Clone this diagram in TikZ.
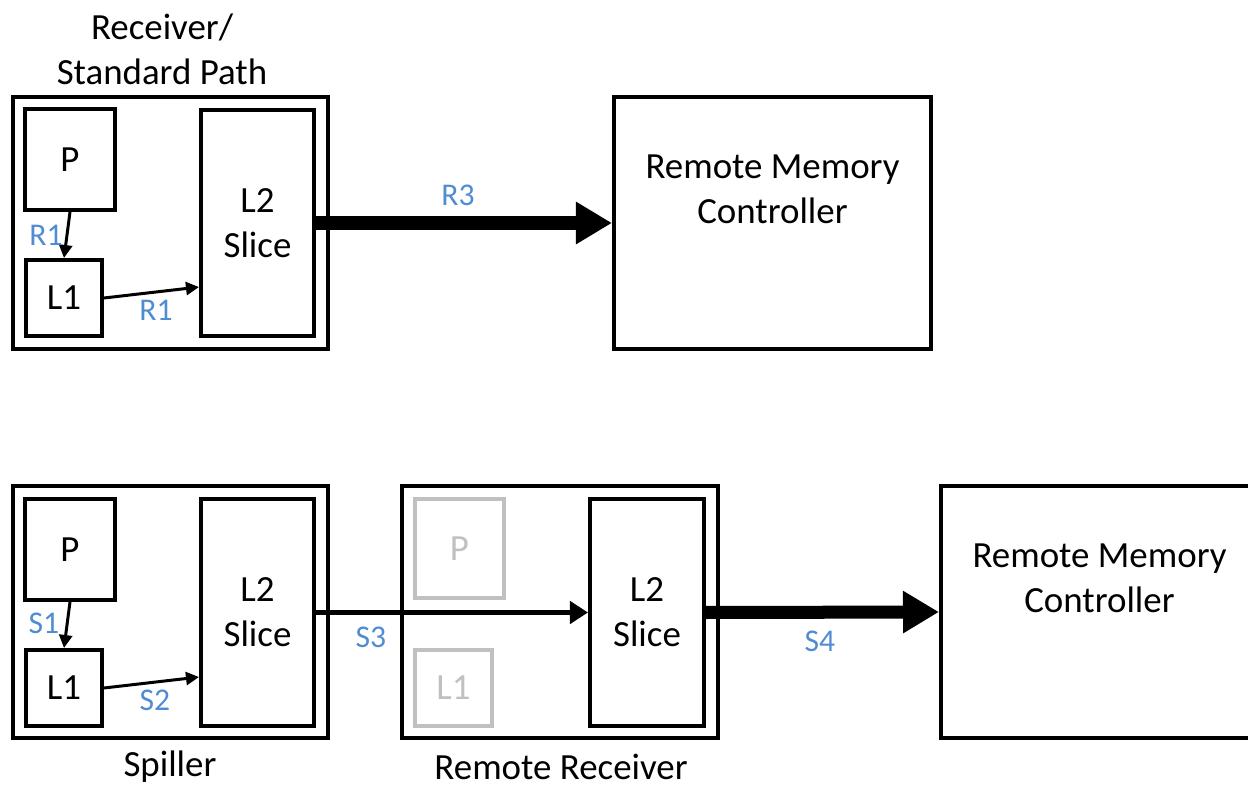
\documentclass[tikz,border=0pt]{standalone}
\usepackage{fontspec}
\setmainfont{Carlito}
\definecolor{blue1}{RGB}{80, 140, 210}
\definecolor{grey1}{RGB}{192, 192, 192}
\usepackage{tikz}
\usetikzlibrary{arrows.meta, positioning, calc}

\begin{document}
\begin{tikzpicture}[
    box/.style={draw, line width=2.3pt, minimum width=#1},
    txt/.style={font=\fontsize{21}{25.5}\selectfont, align=center},
    lbl/.style={text=blue1, font=\fontsize{18}{21}\selectfont, inner sep=0pt},
    thin/.style={line width=1.7pt, -{Triangle[length=0.26cm, width=0.26cm]}},
    mid/.style={line width=3.4pt, -{Triangle[length=0.36cm, width=0.44cm]}},
    thick/.style={line width=7.4pt, -{Triangle[length=0.72cm, width=0.8cm]}}
  ]
  \useasboundingbox (0,0) rectangle (24.96,15.72);
  \clip (0,0) rectangle (24.96,15.72);

  % receiver / standard path
  \node[box=6.3cm, minimum height=5.04cm] (rOuter) at (3.41,11.26) {};
  \node[box=1.8cm, minimum height=2.02cm, txt] (rP) at (1.4,12.53) {P};
  \node[box=1.52cm, minimum height=1.52cm, txt] (rL1) at (1.28,9.76) {L1};
  \node[box=2.26cm, minimum height=4.52cm, txt] (rL2) at (5.15,11.26) {L2\\Slice};
  \node[txt] (rTitle) at (3.24,14.74) {Receiver/\\Standard Path};
  \node[box=6.34cm, minimum height=5.04cm] (rMC) at (15.45,11.26) {};
  \node[txt] (rMCtext) at ([yshift=0.67cm]rMC.center) {Remote Memory\\Controller};

  \draw[thin] (rP.south) -- (rL1.north);
  \draw[thin] (rL1.east) -- ([yshift=1.02cm]rL2.south west);
  \draw[thick] (rL2.east) -- (rMC.west);
  \node[lbl] (rA) at (0.92,11.02) {R1};
  \node[lbl] (rB) at (3.12,9.52) {R1};
  \node[lbl] (rC) at (9.16,11.82) {R3};

  % spiller
  \node[box=6.3cm, minimum height=5.04cm] (sOuter) at (3.41,3.48) {};
  \node[box=1.8cm, minimum height=2.02cm, txt] (sP) at (1.4,4.73) {P};
  \node[box=1.52cm, minimum height=1.52cm, txt] (sL1) at (1.28,1.96) {L1};
  \node[box=2.26cm, minimum height=4.54cm, txt] (sL2) at (5.15,3.47) {L2\\Slice};
  \node[txt] (sTitle) at (3.4,0.38) {Spiller};

  % remote receiver
  \node[box=6.32cm, minimum height=5.04cm] (qOuter) at (11.2,3.48) {};
  \node[box=1.78cm, minimum height=1.98cm, draw=grey1, text=grey1, txt] (qP) at (9.19,4.75) {P};
  \node[box=1.54cm, minimum height=1.52cm, draw=grey1, text=grey1, txt] (qL1) at (9.07,1.96) {L1};
  \node[box=2.28cm, minimum height=4.54cm, txt] (qL2) at (12.94,3.47) {L2\\Slice};
  \node[txt] (qTitle) at (11.22,0.38) {Remote Receiver};

  \node[box=6.34cm, minimum height=5.04cm] (sMC) at (21.99,3.48) {};
  \node[txt] (sMCtext) at ([yshift=0.67cm]sMC.center) {Remote Memory\\Controller};

  \draw[thin] (sP.south) -- (sL1.north);
  \draw[thin] (sL1.east) -- ([yshift=1.02cm]sL2.south west);
  \draw[mid] (sL2.east) -- (qL2.west);
  \draw[thick] (qL2.east) -- (sMC.west);
  \node[lbl] (sA) at (0.88,3.26) {S1};
  \node[lbl] (sB) at (3.1,1.72) {S2};
  \node[lbl] (sC) at (7.42,2.98) {S3};
  \node[lbl] (sD) at (16.4,2.9) {S4};
\end{tikzpicture}
\end{document}
